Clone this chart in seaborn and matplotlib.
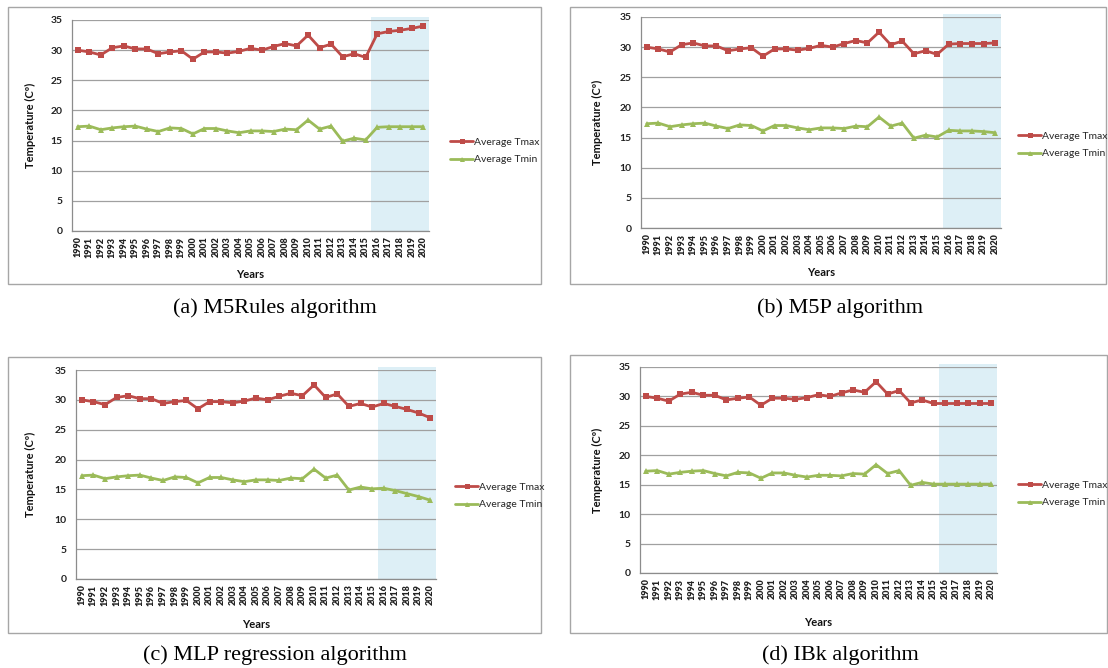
import numpy as np
import pandas as pd
import seaborn as sns
import matplotlib
import matplotlib.pyplot as plt
from matplotlib.patches import Rectangle
from matplotlib.ticker import FixedLocator, NullFormatter

years = [str(y) for y in range(1990, 2021)]

# observed part (1990-2015), same in all four panels
tmax_obs = [30.0, 29.7, 29.2, 30.4, 30.7, 30.2, 30.2, 29.4, 29.7, 29.9, 28.5, 29.7, 29.7,
            29.5, 29.8, 30.3, 30.0, 30.6, 31.1, 30.7, 32.5, 30.4, 31.0, 28.9, 29.4, 28.8]
tmin_obs = [17.3, 17.4, 16.8, 17.1, 17.3, 17.4, 16.9, 16.5, 17.1, 17.0, 16.1, 17.0, 17.0,
            16.6, 16.3, 16.6, 16.6, 16.5, 16.9, 16.8, 18.4, 16.9, 17.4, 14.9, 15.4, 15.1]

# predictions 2016-2020
tmax_m5rules = [32.7, 33.1, 33.3, 33.6, 34.0]
tmin_m5rules = [17.2, 17.3, 17.3, 17.3, 17.3]
tmax_m5p = [30.5, 30.6, 30.6, 30.6, 30.7]
tmin_m5p = [16.2, 16.1, 16.1, 16.0, 15.8]
tmax_mlp = [29.4, 28.9, 28.4, 27.8, 27.0]
tmin_mlp = [15.2, 14.8, 14.3, 13.8, 13.2]
tmax_ibk = [28.8, 28.8, 28.8, 28.8, 28.8]
tmin_ibk = [15.1, 15.1, 15.1, 15.1, 15.1]

captions = ['(a) M5Rules algorithm', '(b) M5P algorithm',
            '(c) MLP regression algorithm', '(d) IBk algorithm']
preds = [(tmax_m5rules, tmin_m5rules), (tmax_m5p, tmin_m5p),
         (tmax_mlp, tmin_mlp), (tmax_ibk, tmin_ibk)]

W, H = 1108, 668
sns.set_style('white')
plt.rcParams['font.family'] = ['Lato', 'DejaVu Sans']

fig = plt.figure(figsize=(W / 100, H / 100), dpi=100)

def fig_rect(l, t, r, b):
    return [l / W, 1 - b / H, (r - l) / W, (b - t) / H]

# pixel layouts: box, axes, legend anchor, ylabel x, years y, caption (x, y)
layout = [
    dict(box=(8, 7, 541, 284), ax=(72, 20, 429, 231), leg=(445, 151), ylab=30, xlab=274, cap=(275, 308)),
    dict(box=(570, 7, 1106, 284), ax=(641, 17, 1001, 228), leg=(1013, 145), ylab=597, xlab=272, cap=(840, 308)),
    dict(box=(8, 357, 541, 633), ax=(76, 370, 436, 579), leg=(450, 496), ylab=30, xlab=624, cap=(275, 655)),
    dict(box=(570, 355, 1107, 633), ax=(640, 367, 997, 573), leg=(1013, 494), ylab=597, xlab=622, cap=(840, 655)),
]

red = '#BE4B48'
green = '#9BBB59'
shade = '#DDEFF6'
first_pred = years.index('2016')

for i, lay in enumerate(layout):
    tmax = tmax_obs + preds[i][0]
    tmin = tmin_obs + preds[i][1]
    df = pd.DataFrame({
        'pos': list(range(len(years))) * 2,
        'temp': tmax + tmin,
        'series': ['Average Tmax'] * len(years) + ['Average Tmin'] * len(years),
    })

    bl, bt, br, bb = lay['box']
    fig.patches.append(Rectangle((bl / W, 1 - bb / H), (br - bl) / W, (bb - bt) / H,
                                 transform=fig.transFigure, fill=False,
                                 edgecolor='#A6A6A6', linewidth=1.0))

    ax = fig.add_axes(fig_rect(*lay['ax']))
    ax.axvspan(first_pred - 0.5, len(years) - 0.5, ymin=0, ymax=1.015, color=shade, lw=0,
               clip_on=False, zorder=0)

    sns.lineplot(data=df, x='pos', y='temp', hue='series', style='series',
                 palette={'Average Tmax': red, 'Average Tmin': green},
                 markers={'Average Tmax': 's', 'Average Tmin': '^'}, dashes=False,
                 markersize=4.5, markeredgewidth=0, linewidth=2.0, ax=ax, zorder=3)

    ax.set_xlim(-0.5, len(years) - 0.5)
    ax.set_ylim(0, 35)
    ax.set_yticks(range(0, 36, 5))
    ax.yaxis.grid(True, color='#A0A0A0', linewidth=0.9)
    ax.set_axisbelow(True)
    for s in ['top', 'right']:
        ax.spines[s].set_visible(False)
    ax.spines['left'].set_color('#8C8C8C')
    ax.spines['bottom'].set_color('#8C8C8C')
    ax.spines['left'].set_linewidth(0.9)
    ax.spines['bottom'].set_linewidth(0.9)

    # Excel style category axis: ticks between categories, labels at centres
    ax.xaxis.set_major_locator(FixedLocator(np.arange(-0.5, len(years), 1)))
    ax.xaxis.set_major_formatter(NullFormatter())
    ax.xaxis.set_minor_locator(FixedLocator(np.arange(0, len(years))))
    ax.set_xticklabels(years, minor=True, rotation=90, fontsize=6.5, fontweight='heavy', color='#222222')
    ax.tick_params(axis='x', which='major', length=4, width=0.8, color='#8C8C8C', direction='out')
    ax.tick_params(axis='x', which='minor', length=0, pad=4)
    ax.tick_params(axis='y', length=4, width=0.8, color='#8C8C8C', direction='out', pad=3,
                   labelsize=7.5, labelcolor='#222222')
    for lab in ax.get_yticklabels():
        lab.set_fontweight('bold')

    ax.set_xlabel('')
    ax.set_ylabel('')
    ax.get_legend().remove()

    al, at, ar, ab = lay['ax']
    fig.text(lay['ylab'] / W, 1 - ((at + ab) / 2) / H, 'Temperature (Cº)', rotation=90,
             ha='center', va='center', fontsize=8, fontweight='bold', color='#111111')
    fig.text(((al + ar) / 2) / W, 1 - lay['xlab'] / H, 'Years', ha='center', va='center',
             fontsize=8, fontweight='bold', color='#111111')

    handles, labels = ax.get_legend_handles_labels()
    fig.legend(handles, labels, loc='center left',
               bbox_to_anchor=(lay['leg'][0] / W, 1 - lay['leg'][1] / H),
               frameon=False, fontsize=7.5, handlelength=2.2, handletextpad=0.1,
               labelspacing=0.8, borderpad=0, markerscale=0.8)

    fig.text(lay['cap'][0] / W, 1 - lay['cap'][1] / H, captions[i], ha='center', va='center',
             fontsize=16, family='Liberation Serif', color='black')

plt.savefig('out.png', dpi=100)
